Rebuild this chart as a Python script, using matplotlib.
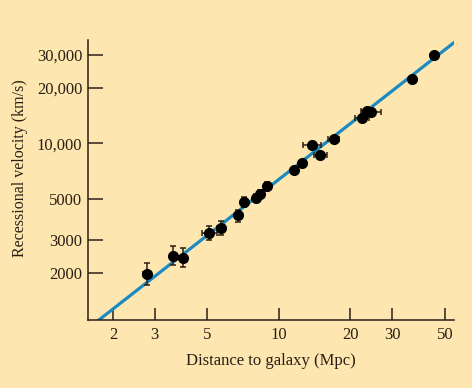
import matplotlib
matplotlib.use("Agg")
from matplotlib import pyplot as plt
from matplotlib.ticker import FixedLocator, FixedFormatter, NullLocator
import numpy as np

# distance (Mpc) and recessional velocity (km/s)
distance = [2.78, 3.59, 3.93, 5.09, 5.68, 6.74, 7.10, 8.0, 8.34, 8.9,
            11.56, 12.53, 13.77, 14.83, 17.0, 22.4, 23.4, 24.4, 36.2, 45.1]
velocity = [1975, 2470, 2405, 3300, 3480, 4090, 4810, 5100, 5350, 5930,
            7150, 7830, 9750, 8620, 10600, 13700, 14880, 14690, 22150, 29940]
v_lo = [1714, 2197, 2153, 3033, 3221, 3784, 4530, 4850, 5080, 5650,
        6950, 7600, 9500, 8400, 10350, 13350, 14500, 14350, 21700, 29500]
v_hi = [2259, 2793, 2722, 3595, 3810, 4386, 5130, 5350, 5620, 6200,
        7350, 8050, 10000, 8850, 10850, 14050, 15250, 15050, 22600, 30400]
d_lo = [2.68, 3.47, 3.82, 4.75, 5.50, 6.55, 6.92, 7.8, 8.1, 8.7,
        11.2, 12.2, 12.65, 14.03, 16.1, 21.0, 22.1, 22.3, 35.2, 44.2]
d_hi = [2.88, 3.71, 4.05, 5.47, 5.85, 6.93, 7.30, 8.2, 8.6, 9.15,
        11.9, 12.9, 14.98, 15.88, 17.9, 23.9, 24.1, 27.0, 37.2, 46.0]

hubble = 640  # slope of the fitted line, km/s per Mpc

xticks = [2, 3, 5, 10, 20, 30, 50]
yticks = [2000, 3000, 5000, 10000, 20000, 30000]
ylabels = ["2000", "3000", "5000", "10,000", "20,000", "30,000"]

bg = "#fee6b0"
ink = "#2a1f14"

plt.rcParams['font.family'] = ['Liberation Serif', 'DejaVu Serif']

fig = plt.figure(figsize=(4.72, 3.88), dpi=100, facecolor=bg)
ax = fig.add_axes([0.1864, 0.1753, 0.7754, 0.7216], facecolor=bg)
ax.set_xscale('log')
ax.set_yscale('log')
ax.set_xlim(1.57, 54.6)
ax.set_ylim(1117, 36100)

line_x = np.array([1.57, 56.0])
ax.plot(line_x, hubble * line_x, color="#1b8ac0", lw=2.3, zorder=2)

d = np.array(distance)
v = np.array(velocity)
yerr = [v - np.array(v_lo), np.array(v_hi) - v]
xerr = [d - np.array(d_lo), np.array(d_hi) - d]
ax.errorbar(d, v, xerr=xerr, yerr=yerr, fmt='o', color='black', ms=7,
            ecolor=ink, elinewidth=1.1, capsize=2.2, capthick=1.1, zorder=3)

for side in ('top', 'right'):
    ax.spines[side].set_visible(False)
for side in ('left', 'bottom'):
    ax.spines[side].set_color(ink)
    ax.spines[side].set_linewidth(1.1)

ax.xaxis.set_major_locator(FixedLocator(xticks))
ax.xaxis.set_major_formatter(FixedFormatter([str(t) for t in xticks]))
ax.xaxis.set_minor_locator(NullLocator())
ax.yaxis.set_major_locator(FixedLocator(yticks))
ax.yaxis.set_major_formatter(FixedFormatter(ylabels))
ax.yaxis.set_minor_locator(NullLocator())

ax.tick_params(axis='x', direction='in', length=9, width=1.1, color=ink,
               labelsize=12, labelcolor=ink, pad=5)
ax.tick_params(axis='y', direction='in', length=11, width=1.1, color=ink,
               labelsize=12, labelcolor=ink, pad=4)

ax.set_xlabel("Distance to galaxy (Mpc)", fontsize=12, color=ink, labelpad=7)
ax.set_ylabel("Recessional velocity (km/s)", fontsize=11.5, color=ink)
ax.yaxis.set_label_coords(-0.165, 0.543)

fig.savefig("out.png", dpi=100, facecolor=bg)
